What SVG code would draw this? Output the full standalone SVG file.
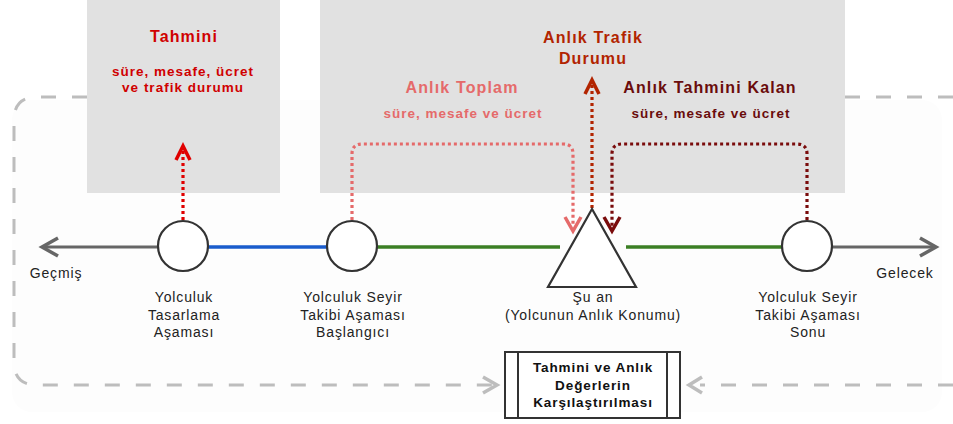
<svg xmlns="http://www.w3.org/2000/svg" width="953" height="424" viewBox="0 0 953 424">
<defs>
<style>
text{font-family:"Liberation Sans",Arial,sans-serif;text-anchor:middle}
.lbl{font-size:14px;fill:#222;letter-spacing:0.85px}
.t{font-weight:bold;font-size:16px;letter-spacing:1.15px}
.s{font-weight:bold;font-size:13.5px;letter-spacing:1px}
.k{font-weight:bold;font-size:13.5px;letter-spacing:0.9px;fill:#111}
.box{fill:#e1e1e1}
.loop{fill:none;stroke:#bdbdbd;stroke-width:3;stroke-dasharray:15,16}
.node{fill:#fff;stroke:#333;stroke-width:2.2}
.dot{fill:none;stroke-width:3.2;stroke-dasharray:3,3}
.chev{fill:none;stroke-width:3.5;stroke-linecap:butt;stroke-linejoin:miter}
</style>
</defs>
<rect width="953" height="424" fill="#fff"/>
<rect x="12" y="100" width="930" height="312" rx="20" fill="#fdfdfd"/>
<g id="loops">
<path class="loop" d="M87 97 H37 Q14 97 14 120 V362 Q14 385 37 385 H495"/>
<path class="chev" stroke="#bdbdbd" d="M483 377 L497 385 L483 393"/>
<path class="loop" d="M845 97 H953 M953 385 H700"/>
<path class="chev" stroke="#bdbdbd" d="M702 377 L689 385 L702 393"/>
</g>
<g id="box-tahmini">
<rect class="box" x="87" y="0" width="193" height="193"/>
<text class="t" x="184" y="42" fill="#d00000">Tahmini</text>
<text class="s" x="183" y="76" fill="#d00000">süre, mesafe, ücret</text>
<text class="s" x="183" y="92" fill="#d00000">ve trafik durumu</text>
</g>
<g id="box-anlik">
<rect class="box" x="320" y="0" width="525" height="193"/>
<text class="t" x="593" y="43" fill="#b22400">Anlık Trafik</text>
<text class="t" x="593" y="64" fill="#b22400">Durumu</text>
<text class="t" x="462" y="93" fill="#e56a6a">Anlık Toplam</text>
<text class="s" x="463" y="118" fill="#e56a6a">süre, mesafe ve ücret</text>
<text class="t" x="710" y="93" fill="#6a0c0c">Anlık Tahmini Kalan</text>
<text class="s" x="711" y="118" fill="#6a0c0c">süre, mesafe ve ücret</text>
</g>
<g id="connectors">
<line x1="158" y1="247" x2="44" y2="247" stroke="#666" stroke-width="3"/>
<path class="chev" stroke="#666" d="M58 238 L42 247 L58 256"/>
<line x1="832" y1="247" x2="934" y2="247" stroke="#666" stroke-width="3"/>
<path class="chev" stroke="#666" d="M920 238 L936 247 L920 256"/>
<line x1="208" y1="247" x2="327" y2="247" stroke="#1a5ccc" stroke-width="3.5"/>
<line x1="377" y1="247" x2="560" y2="247" stroke="#3b7f24" stroke-width="3.5"/>
<line x1="626" y1="247" x2="782" y2="247" stroke="#3b7f24" stroke-width="3.5"/>
<path class="dot" stroke="#e00000" d="M183 220 V148"/>
<path class="chev" stroke="#e00000" d="M176 160 L183 146 L190 160"/>
<path class="dot" stroke="#b22400" d="M592 208 V82"/>
<path class="chev" stroke="#b22400" d="M585 94 L592 80 L599 94"/>
<path class="dot" stroke="#e56a6a" d="M352 220 V154 Q352 144 362 144 H563 Q573 144 573 154 V226"/>
<path class="chev" stroke="#e56a6a" d="M565 217 L573 231 L581 217"/>
<path class="dot" stroke="#7a0c0c" d="M807 220 V154 Q807 144 797 144 H622 Q612 144 612 154 V226"/>
<path class="chev" stroke="#7a0c0c" d="M604 217 L612 231 L620 217"/>
</g>
<g id="node-tasarlama">
<circle class="node" cx="183" cy="246" r="25"/>
<text class="lbl" x="184" y="302">Yolculuk</text>
<text class="lbl" x="184" y="320">Tasarlama</text>
<text class="lbl" x="184" y="337">Aşaması</text>
</g>
<g id="node-baslangic">
<circle class="node" cx="352" cy="246" r="25"/>
<text class="lbl" x="353" y="302">Yolculuk Seyir</text>
<text class="lbl" x="353" y="320">Takibi Aşaması</text>
<text class="lbl" x="353" y="337">Başlangıcı</text>
</g>
<g id="node-suan">
<polygon class="node" points="592,209 548,287 636,287"/>
<text class="lbl" x="593" y="302">Şu an</text>
<text class="lbl" x="593" y="320">(Yolcunun Anlık Konumu)</text>
</g>
<g id="node-sonu">
<circle class="node" cx="807" cy="246" r="25"/>
<text class="lbl" x="808" y="302">Yolculuk Seyir</text>
<text class="lbl" x="808" y="320">Takibi Aşaması</text>
<text class="lbl" x="808" y="337">Sonu</text>
</g>
<g id="label-gecmis"><text class="lbl" x="56" y="278">Geçmiş</text></g>
<g id="label-gelecek"><text class="lbl" x="905" y="278">Gelecek</text></g>
<g id="node-karsilastirma">
<rect x="505" y="352" width="175" height="66" fill="#fff" stroke="#333" stroke-width="2"/>
<line x1="518" y1="352" x2="518" y2="418" stroke="#333" stroke-width="2"/>
<line x1="667" y1="352" x2="667" y2="418" stroke="#333" stroke-width="2"/>
<text class="k" x="593" y="372">Tahmini ve Anlık</text>
<text class="k" x="593" y="390">Değerlerin</text>
<text class="k" x="593" y="407">Karşılaştırılması</text>
</g>
</svg>
